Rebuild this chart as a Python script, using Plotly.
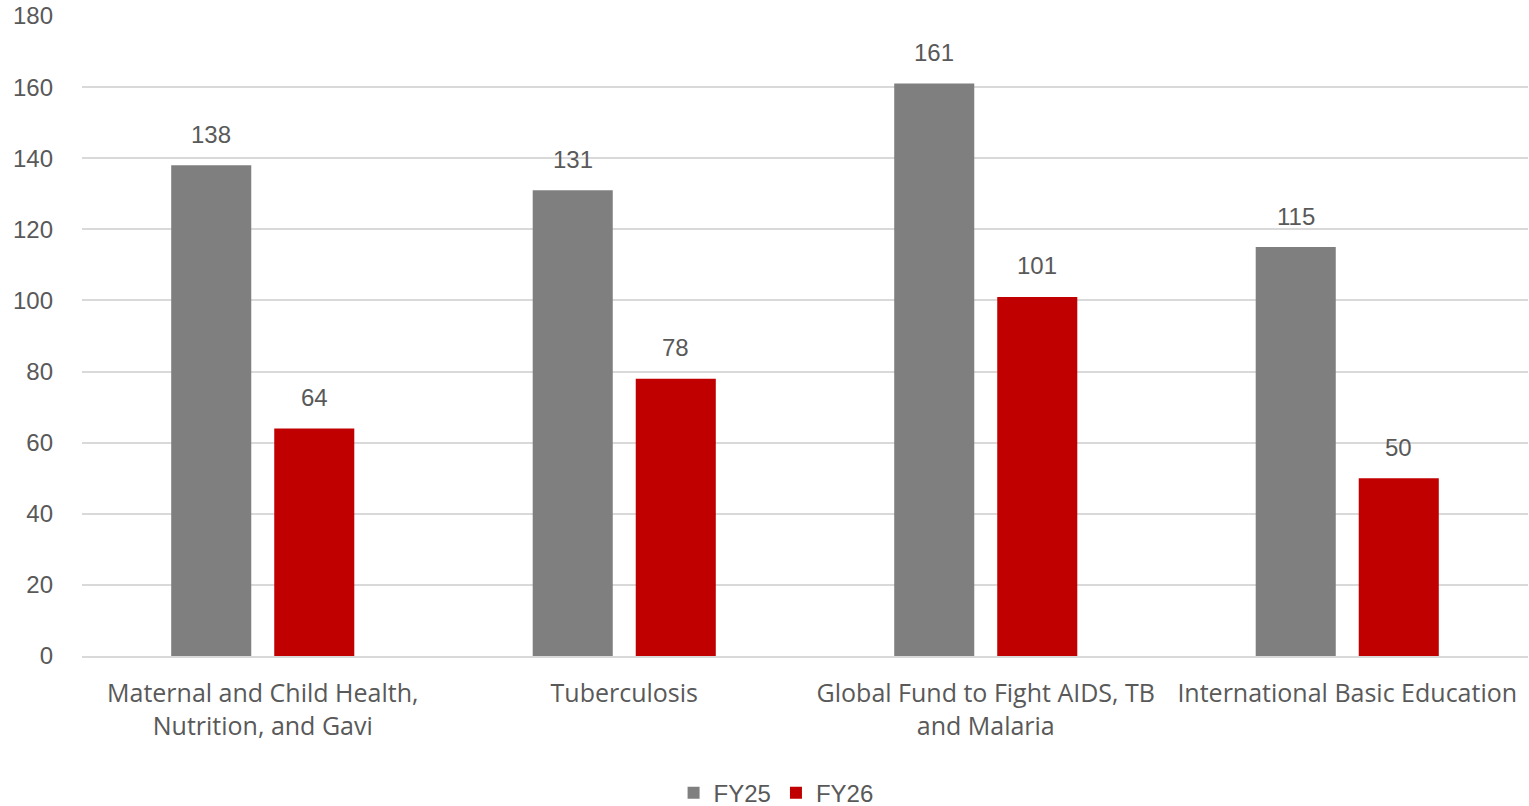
import plotly.graph_objects as go

categories = [
    "Maternal and Child Health,<br>Nutrition, and Gavi",
    "Tuberculosis",
    "Global Fund to Fight AIDS, TB<br>and Malaria",
    "International Basic Education",
]
fy25 = [138, 131, 161, 115]
fy26 = [64, 78, 101, 50]
y_ticks = [0, 20, 40, 60, 80, 100, 120, 140, 160, 180]

GRAY = "#7f7f7f"
RED = "#c00000"
TEXT = "#595959"
NUM_FONT = "Liberation Sans"

fig = go.Figure()
fig.add_trace(go.Bar(name="FY25", x=categories, y=fy25, marker_color=GRAY,
                     marker_line_width=0, offsetgroup="a"))
fig.add_trace(go.Bar(name="FY26", x=categories, y=fy26, marker_color=RED,
                     marker_line_width=0, offsetgroup="b"))

# value labels above each bar
for i, (a, b) in enumerate(zip(fy25, fy26)):
    for val, shift in ((a, -0.142), (b, 0.142)):
        fig.add_annotation(x=i + shift, y=val, text=str(val), showarrow=False,
                           yshift=31, xref="x", yref="y",
                           font=dict(family=NUM_FONT, size=24, color=TEXT))

fig.update_layout(
    width=1529, height=806,
    margin=dict(l=82, r=1, t=16, b=150, autoexpand=False),
    paper_bgcolor="white", plot_bgcolor="white",
    barmode="group", bargap=0.43, bargroupgap=0.223,
    showlegend=True,
    legend=dict(orientation="h", x=0.48, xanchor="center",
                yref="container", y=0.016, yanchor="middle",
                font=dict(family=NUM_FONT, size=24, color=TEXT),
                itemwidth=30, traceorder="normal"),
    xaxis=dict(showgrid=False, showline=True, linecolor="#d9d9d9", linewidth=2,
               ticks="", ticklabelstandoff=14, automargin=False,
               tickfont=dict(family="Open Sans", size=25, color=TEXT)),
    yaxis=dict(range=[0, 180], tickvals=y_ticks, showgrid=True,
               gridcolor="#d9d9d9", gridwidth=2, zeroline=False,
               ticks="", ticklabelstandoff=28, automargin=False,
               tickfont=dict(family=NUM_FONT, size=24, color=TEXT)),
)

fig.write_html("out.html")
